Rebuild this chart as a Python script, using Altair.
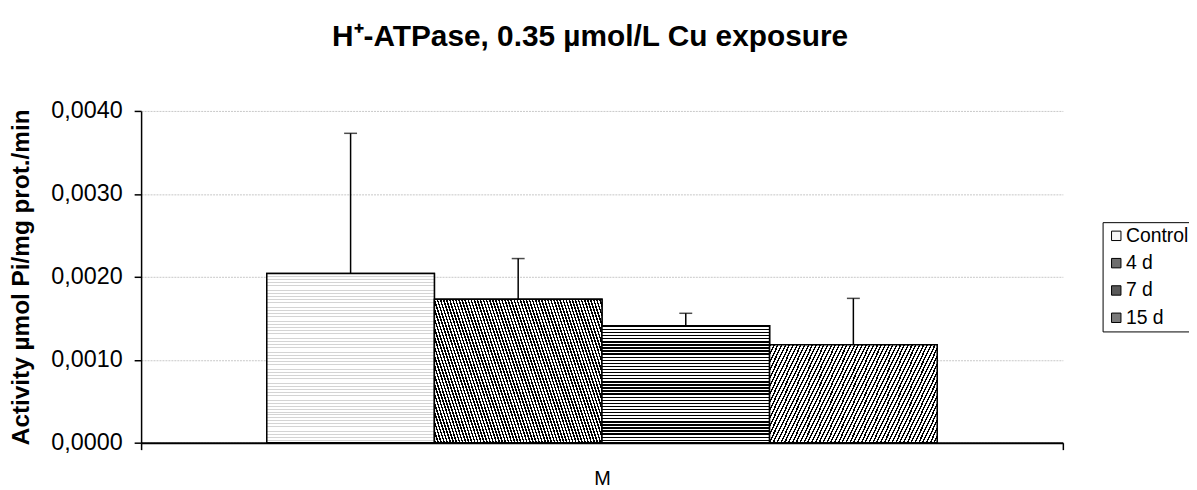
import altair as alt
import pandas as pd

# ---- data ----
series = ["Control", "4 d", "7 d", "15 d"]
means = [0.00204, 0.00173, 0.00141, 0.00118]
upper = [0.00373, 0.00222, 0.00156, 0.00174]   # mean + SD (upper whisker end)
group = ["M", "M", "M", "M"]
y_ticks = [0.0, 0.001, 0.002, 0.003, 0.004]

df = pd.DataFrame({"grp": group, "series": series, "value": means, "upper": upper})

FONT = "Liberation Sans"


def stripes(n, frac, dark, light, x1, y1, x2, y2):
    stops = []
    for i in range(n):
        a = i / n
        b = (i + frac) / n
        c = (i + 1) / n
        stops += [
            {"offset": a, "color": dark},
            {"offset": b, "color": dark},
            {"offset": b, "color": light},
            {"offset": c, "color": light},
        ]
    return {"gradient": "linear", "x1": x1, "y1": y1, "x2": x2, "y2": y2, "stops": stops}


k = 0.28                     # slope of the diagonal hatching (bbox units)
L = (1 + k) / (1 + k * k)    # gradient length so every corner is covered
pat = {
    "Control": stripes(60, 0.3, "#d4d4d4", "#ffffff", 0, 0, 0, 1),
    "4 d": stripes(70, 0.5, "#000000", "#ffffff", 0, 1, L, 1 - k * L),
    "7 d": stripes(38, 0.45, "#000000", "#ffffff", 0, 0, 0, 1),
    "15 d": stripes(56, 0.4, "#000000", "#ffffff", 0, 0, L, k * L),
}

x_enc = alt.X("grp:N", title=None,
              scale=alt.Scale(paddingInner=0, paddingOuter=0),
              axis=alt.Axis(tickBand="extent", labelAngle=0, labelFont=FONT, labelFontSize=20,
                            labelColor="black", domainColor="black", domainWidth=2,
                            tickColor="black", tickWidth=1.5, tickSize=7, labelPadding=19,
                            grid=False))
xo_enc = alt.XOffset("series:N", sort=series,
                     scale=alt.Scale(paddingInner=0, paddingOuter=0.75))
y_enc = alt.Y("value:Q", title="Activity µmol Pi/mg prot./min",
              scale=alt.Scale(domain=[0, 0.004], nice=False),
              axis=alt.Axis(values=y_ticks,
                            labelExpr="replace(format(datum.value, '.4f'), '.', ',')",
                            labelFont=FONT, labelFontSize=23.5, labelColor="black",
                            titleFont=FONT, titleFontSize=24.5, titleFontWeight="bold",
                            titleColor="black", titlePadding=17,
                            domainColor="black", domainWidth=1.5,
                            tickColor="black", tickWidth=1.5, tickSize=7, labelPadding=12,
                            gridColor="#c8c8c8", gridWidth=1, gridDash=[2, 1]))

base = alt.Chart(df)

legend_bars = base.mark_bar(stroke="black", strokeWidth=1.5).encode(
    x=x_enc, xOffset=xo_enc, y=y_enc,
    color=alt.Color("series:N", sort=series,
                    scale=alt.Scale(domain=series,
                                    range=["#f6f6f6", "#6e6e6e", "#5a5a5a", "#7a7a7a"]),
                    legend=alt.Legend(title=None, orient="none", legendX=968, legendY=112,
                                      symbolType="square", symbolSize=90,
                                      symbolStrokeColor="black", symbolStrokeWidth=1,
                                      labelFont=FONT, labelFontSize=19.5, labelColor="black",
                                      labelOffset=0, rowPadding=6.5,
                                      strokeColor="black", fillColor="white", padding=4)),
)

fill_rule = (
    alt.when(alt.datum.series == "Control").then(alt.value(pat["Control"]))
    .when(alt.datum.series == "4 d").then(alt.value(pat["4 d"]))
    .when(alt.datum.series == "7 d").then(alt.value(pat["7 d"]))
    .otherwise(alt.value(pat["15 d"]))
)

pattern_bars = base.mark_bar(stroke="black", strokeWidth=1.5).encode(
    x="grp:N", xOffset=alt.XOffset("series:N", sort=series), y="value:Q",
    fill=fill_rule,
)

err_line = base.mark_rule(color="black", strokeWidth=1.5).encode(
    x="grp:N", xOffset=alt.XOffset("series:N", sort=series), y="value:Q", y2="upper:Q",
)
err_cap = base.mark_tick(color="black", thickness=1.5, size=13).encode(
    x="grp:N", xOffset=alt.XOffset("series:N", sort=series), y="upper:Q",
)

chart = alt.layer(legend_bars, pattern_bars, err_line, err_cap).properties(
    width=928, height=334,
    padding={"left": 134, "top": 102, "right": 127, "bottom": 44},
    autosize=alt.AutoSizeParams(type="none"),
    title=alt.TitleParams("H⁺-ATPase, 0.35 µmol/L Cu exposure", font=FONT, fontSize=30,
                          fontWeight="bold", color="black", anchor="middle",
                          baseline="alphabetic", offset=23, dx=-12),
).configure_view(stroke=None)

chart.save("out.html", embed_options={"renderer": "svg", "actions": False})
